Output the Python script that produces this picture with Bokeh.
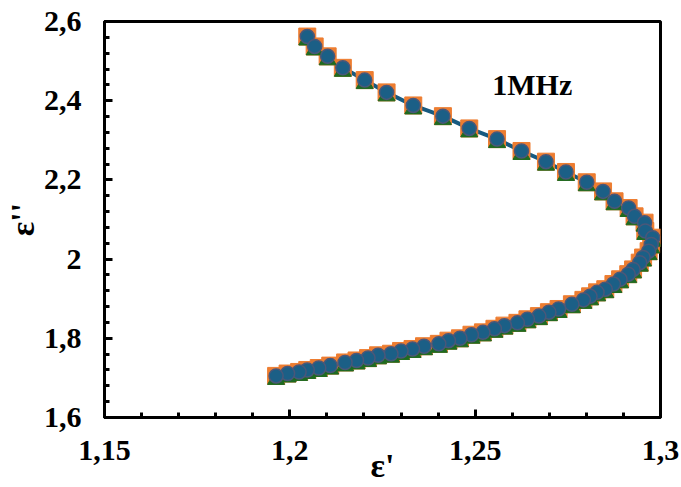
from bokeh.plotting import figure
from bokeh.models import FixedTicker, Label, ColumnDataSource
from bokeh.transform import dodge
from bokeh.embed import file_html
from bokeh.resources import INLINE

# Data (epsilon' , epsilon''), in frequency order
eps_real = [1.2047, 1.2067, 1.2102, 1.2143, 1.2202, 1.2261, 1.2333, 1.2413, 1.2484, 1.2559,
            1.2625, 1.2691, 1.2745, 1.2801, 1.2845, 1.2876, 1.2914, 1.2930, 1.2957, 1.2959,
            1.2979, 1.2975, 1.2968, 1.2953, 1.2944, 1.2926, 1.2913, 1.2891, 1.2873, 1.2851,
            1.2829, 1.2810, 1.2792, 1.2761, 1.2725, 1.2699, 1.2672, 1.2641, 1.2614, 1.2579,
            1.2552, 1.2521, 1.2490, 1.2459, 1.2428, 1.2402, 1.2362, 1.2331, 1.2300, 1.2273,
            1.2238, 1.2211, 1.2180, 1.2149, 1.2109, 1.2078, 1.2047, 1.2025, 1.1994, 1.1963]
eps_imag = [2.562, 2.537, 2.512, 2.483, 2.452, 2.421, 2.388, 2.361, 2.330, 2.303,
            2.273, 2.246, 2.220, 2.194, 2.171, 2.146, 2.129, 2.108, 2.092, 2.071,
            2.054, 2.037, 2.020, 2.004, 1.991, 1.974, 1.962, 1.949, 1.937, 1.924,
            1.916, 1.906, 1.897, 1.886, 1.874, 1.866, 1.856, 1.848, 1.839, 1.832,
            1.824, 1.815, 1.809, 1.800, 1.794, 1.786, 1.780, 1.773, 1.768, 1.761,
            1.757, 1.750, 1.744, 1.739, 1.731, 1.725, 1.720, 1.715, 1.711, 1.705]

x_ticks = [1.15, 1.2, 1.25, 1.3]
x_tick_labels = ["1,15", "1,2", "1,25", "1,3"]
y_ticks = [1.6, 1.8, 2.0, 2.2, 2.4, 2.6]
y_tick_labels = ["1,6", "1,8", "2", "2,2", "2,4", "2,6"]
x_minor = [round(1.15 + 0.01 * i, 2) for i in range(16)]
y_minor = [round(1.6 + 0.04 * i, 2) for i in range(26)]
annotation = "1MHz"

FONT = "Liberation Serif"
FS = "30px"
FS_TITLE = "34px"

src = ColumnDataSource(dict(x=eps_real, y=eps_imag))

p = figure(width=681, height=487, output_backend="svg", toolbar_location=None,
           x_range=(1.15, 1.3), y_range=(1.6, 2.6),
           min_border_left=96, min_border_right=21, min_border_top=21, min_border_bottom=70)
p.grid.visible = False
p.background_fill_color = "white"
p.border_fill_color = "white"
p.outline_line_color = "black"
p.outline_line_width = 3

p.line("x", "y", source=src, line_color="#175A80", line_width=4)
p.scatter("x", "y", source=src, marker="square", size=17, fill_color="#ED7D31", line_color="#ED7D31", line_width=1)
# Excel-style triangle sits in the marker box (base on the box bottom): shift it slightly down
p.scatter("x", dodge("y", -0.009, range=p.y_range), source=src, marker="triangle", size=17,
          fill_color="#1E6B22", line_color="#1E6B22", line_width=1)
p.scatter("x", "y", source=src, marker="circle", size=14, fill_color="#1B5F86", line_color="#4A5779", line_width=1.5)

for ax, ticks, labels, minor in ((p.xaxis[0], x_ticks, x_tick_labels, x_minor),
                                  (p.yaxis[0], y_ticks, y_tick_labels, y_minor)):
    ax.ticker = FixedTicker(ticks=ticks, minor_ticks=minor)
    ax.major_label_overrides = {t: l for t, l in zip(ticks, labels)}
    ax.axis_line_width = 3
    ax.axis_line_color = "black"
    ax.major_tick_in = 8
    ax.major_tick_out = 0
    ax.minor_tick_in = 5
    ax.minor_tick_out = 0
    ax.major_tick_line_width = 3
    ax.minor_tick_line_width = 3
    ax.major_label_text_font = FONT
    ax.major_label_text_font_size = FS
    ax.major_label_text_font_style = "bold"
    ax.major_label_text_color = "black"
    ax.axis_label_text_font = FONT
    ax.axis_label_text_font_size = FS_TITLE
    ax.axis_label_text_font_style = "bold"
    ax.axis_label_text_color = "black"
    ax.major_label_standoff = 23

p.xaxis.axis_label = "ε'"
p.yaxis.axis_label = "ε''"
p.xaxis.axis_label_standoff = -16
p.yaxis.axis_label_standoff = 0

p.add_layout(Label(x=1.2654, y=2.442, text=annotation, text_font=FONT, text_font_size=FS,
                   text_font_style="bold", text_align="center", text_baseline="middle",
                   text_color="black"))

open("out.html", "w").write(file_html(p, INLINE))
